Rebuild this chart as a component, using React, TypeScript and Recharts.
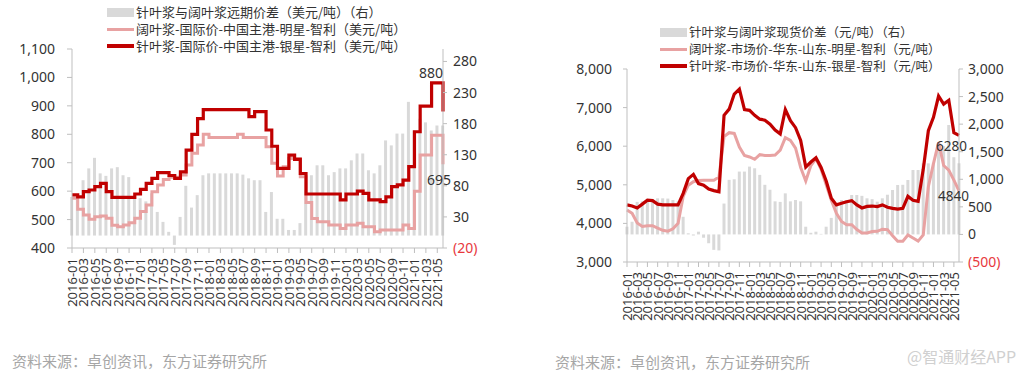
import React from 'react';
import { ComposedChart, Bar, Line, XAxis, YAxis } from 'recharts';

const months = [
  '2016-01', '2016-02', '2016-03', '2016-04', '2016-05', '2016-06', '2016-07', '2016-08', '2016-09', '2016-10', '2016-11', '2016-12',
  '2017-01', '2017-02', '2017-03', '2017-04', '2017-05', '2017-06', '2017-07', '2017-08', '2017-09', '2017-10', '2017-11', '2017-12',
  '2018-01', '2018-02', '2018-03', '2018-04', '2018-05', '2018-06', '2018-07', '2018-08', '2018-09', '2018-10', '2018-11', '2018-12',
  '2019-01', '2019-02', '2019-03', '2019-04', '2019-05', '2019-06', '2019-07', '2019-08', '2019-09', '2019-10', '2019-11', '2019-12',
  '2020-01', '2020-02', '2020-03', '2020-04', '2020-05', '2020-06', '2020-07', '2020-08', '2020-09', '2020-10', '2020-11', '2020-12',
  '2021-01', '2021-02', '2021-03', '2021-04', '2021-05', '2021-06',
];

// 左图：国际价（美元/吨）
const intlSpread = [62, 65, 89, 108, 125, 100, 96, 108, 110, 97, 94, 62, 60, 55, 68, 38, 22, 6, -15, 30, 80, 45, 65, 97, 100, 100, 100, 100, 100, 100, 98, 92, 89, 89, 38, 70, 27, 27, 9, 9, 20, 73, 97, 113, 113, 97, 102, 108, 108, 121, 132, 132, 105, 100, 113, 153, 145, 164, 164, 215, 169, 188, 182, 169, 177, 177];
const intlHardwood = [575, 536, 516, 501, 510, 513, 505, 480, 475, 481, 489, 505, 528, 551, 598, 622, 641, 649, 649, 657, 692, 733, 762, 800, 789, 789, 789, 789, 789, 800, 789, 789, 789, 789, 756, 698, 653, 686, 715, 715, 651, 560, 504, 492, 492, 481, 481, 469, 481, 481, 487, 475, 475, 457, 463, 463, 463, 463, 481, 469, 600, 727, 727, 797, 797, 695];
const intlSoftwood = [587, 580, 598, 604, 616, 627, 598, 578, 578, 578, 578, 590, 606, 627, 645, 665, 665, 655, 645, 668, 744, 800, 855, 887, 887, 887, 887, 887, 887, 887, 887, 862, 880, 880, 815, 758, 680, 680, 727, 712, 662, 590, 590, 590, 590, 590, 590, 569, 590, 590, 600, 592, 569, 569, 563, 580, 616, 622, 639, 686, 809, 899, 899, 981, 981, 880];

// 右图：现货价（元/吨）
const spotSpread = [140, 230, 590, 600, 600, 640, 655, 655, 650, 624, 600, 320, 20, -20, 50, -60, -160, -280, -290, 560, 990, 1000, 1140, 1140, 1230, 1200, 1080, 900, 810, 600, 590, 745, 600, 624, 600, 140, 30, 50, 10, 140, 300, 564, 624, 624, 715, 715, 700, 655, 640, 594, 655, 720, 806, 896, 900, 987, 1168, 1168, 1289, 1289, 1300, 1592, 1600, 1985, 1400, 1290];
const spotHardwood = [4350, 4260, 4010, 3920, 3940, 3940, 3880, 3820, 3800, 3860, 4000, 4700, 4990, 5080, 5110, 5120, 5120, 5120, 5200, 6250, 6350, 6330, 5980, 5760, 5720, 5660, 5780, 5760, 5760, 5770, 5900, 6220, 6150, 5950, 5450, 5100, 5500, 5680, 5400, 5000, 4600, 4260, 4050, 3965, 3965, 3840, 3750, 3750, 3790, 3794, 3850, 3840, 3680, 3540, 3540, 3700, 3620, 3540, 3700, 4950, 5550, 6100, 5500, 5380, 5120, 4840];
const spotSoftwood = [4480, 4450, 4400, 4500, 4600, 4590, 4500, 4480, 4480, 4480, 4480, 4780, 5160, 5270, 5030, 4990, 4890, 4850, 4820, 6800, 6960, 7350, 7480, 6950, 6930, 6800, 6700, 6675, 6570, 6420, 6320, 6950, 6660, 6480, 6150, 5460, 5590, 5700, 5450, 5100, 4650, 4480, 4520, 4560, 4590, 4480, 4400, 4440, 4450, 4435, 4480, 4420, 4390, 4370, 4390, 4700, 4600, 4570, 5400, 6400, 6750, 7300, 7090, 7190, 6350, 6280];

const intlLeftTicks = [400, 500, 600, 700, 800, 900, 1000, 1100];
const intlRightTicks = [-20, 30, 80, 130, 180, 230, 280];
const spotLeftTicks = [3000, 4000, 5000, 6000, 7000, 8000];
const spotRightTicks = [-500, 0, 500, 1000, 1500, 2000, 2500, 3000];

const DARK = '#c00000';
const PINK = '#e8a2a2';
const GREY = '#d9d9d9';
const AXIS = '#bfbfbf';
const TEXT = '#333';
const FONT = '"Noto Sans", "Noto Sans CJK SC", sans-serif';
const CJK = '"Noto Sans CJK SC", sans-serif';

const xTicks = months.map((_, i) => i).filter((i) => i % 2 === 0);

const intlData = months.map((m, i) => ({ i, month: m, spread: intlSpread[i], hardwood: intlHardwood[i], softwood: intlSoftwood[i] }));
const spotData = months.map((m, i) => ({ i, month: m, spread: spotSpread[i], hardwood: spotHardwood[i], softwood: spotSoftwood[i] }));

const fmt = (v: number) => v.toLocaleString('en-US');

const MonthTick = (props: any) => {
  const { x, y, payload } = props;
  return (
    <text x={x} y={y} transform={`rotate(-90, ${x}, ${y})`} textAnchor="end" dominantBaseline="central" fill={TEXT} fontSize={13} fontFamily={FONT}>
      {months[payload.value]}
    </text>
  );
};

const ValueTick = (props: any) => {
  const { x, y, payload, textAnchor } = props;
  const v = payload.value as number;
  return (
    <text x={x} y={y} dy={5} textAnchor={textAnchor} fill={v < 0 ? '#e8383d' : TEXT} fontSize={14} fontFamily={FONT}>
      {v < 0 ? `(${fmt(-v)})` : fmt(v)}
    </text>
  );
};

const LegendRow = ({ kind, label, top, left, size }: { kind: 'bar' | 'pink' | 'dark'; label: string; top: number; left: number; size: number }) => (
  <div style={{ position: 'absolute', left, top, height: 16, display: 'flex', alignItems: 'center', whiteSpace: 'nowrap' }}>
    {kind === 'bar' && <span style={{ display: 'inline-block', width: 27, height: 9, background: GREY }} />}
    {kind === 'pink' && <span style={{ display: 'inline-block', width: 27, height: 3, background: PINK }} />}
    {kind === 'dark' && <span style={{ display: 'inline-block', width: 27, height: 4, background: DARK }} />}
    <span style={{ marginLeft: 2, fontSize: size, color: TEXT, fontFamily: CJK, lineHeight: '16px' }}>{label}</span>
  </div>
);

const note = (text: string, left: number, top: number, size = 14) => (
  <div style={{ position: 'absolute', left, top, fontSize: size, color: TEXT, fontFamily: FONT, lineHeight: '16px' }}>{text}</div>
);

export default function App() {
  return (
    <div style={{ position: 'absolute', left: 0, top: 0, width: 1024, height: 375, background: '#fff', overflow: 'hidden' }}>
      {/* 左图 */}
      <div style={{ position: 'absolute', left: 0, top: 0 }}>
        <ComposedChart width={520} height={330} data={intlData} margin={{ top: 49, right: 0, bottom: 12, left: 0 }}>
          <XAxis
            dataKey="i"
            type="number"
            domain={[0, 65]}
            ticks={xTicks}
            interval={0}
            height={70}
            stroke={AXIS}
            tickSize={5}
            tickMargin={5}
            tick={<MonthTick />}
          />
          <YAxis yAxisId="left" domain={[400, 1100]} ticks={intlLeftTicks} width={72} stroke={AXIS} tickSize={5} tickMargin={12} tick={<ValueTick />} allowDataOverflow />
          <YAxis yAxisId="right" orientation="right" domain={[-20, 300]} ticks={intlRightTicks} width={77} stroke={AXIS} tickSize={4} tickMargin={6} tick={<ValueTick />} allowDataOverflow />
          <Bar yAxisId="right" dataKey="spread" fill={GREY} barSize={3} isAnimationActive={false} />
          <Line yAxisId="left" type="stepAfter" dataKey="hardwood" stroke={PINK} strokeWidth={3} dot={false} isAnimationActive={false} />
          <Line yAxisId="left" type="stepAfter" dataKey="softwood" stroke={DARK} strokeWidth={3.2} dot={false} isAnimationActive={false} />
        </ComposedChart>
      </div>
      <LegendRow kind="bar" label="针叶浆与阔叶浆远期价差（美元/吨）（右）" top={4} left={107} size={13} />
      <LegendRow kind="pink" label="阔叶浆-国际价-中国主港-明星-智利（美元/吨）" top={21} left={107} size={13} />
      <LegendRow kind="dark" label="针叶浆-国际价-中国主港-银星-智利（美元/吨）" top={38} left={107} size={13} />
      {note('880', 419, 65)}
      {note('695', 427, 172)}

      {/* 右图 */}
      <div style={{ position: 'absolute', left: 540, top: 0 }}>
        <ComposedChart width={484} height={340} data={spotData} margin={{ top: 69, right: 0, bottom: 12, left: 0 }}>
          <XAxis
            dataKey="i"
            type="number"
            domain={[0, 65]}
            ticks={xTicks}
            interval={0}
            height={66}
            stroke={AXIS}
            tickSize={5}
            tickMargin={5}
            tick={<MonthTick />}
          />
          <YAxis yAxisId="left" domain={[3000, 8000]} ticks={spotLeftTicks} width={87} stroke={AXIS} tickSize={4} tickMargin={11} tick={<ValueTick />} allowDataOverflow />
          <YAxis yAxisId="right" orientation="right" domain={[-500, 3000]} ticks={spotRightTicks} width={65} stroke={AXIS} tickSize={4} tickMargin={5} tick={<ValueTick />} allowDataOverflow />
          <Bar yAxisId="right" dataKey="spread" fill={GREY} barSize={3} isAnimationActive={false} />
          <Line yAxisId="left" type="linear" dataKey="hardwood" stroke={PINK} strokeWidth={3} dot={false} isAnimationActive={false} />
          <Line yAxisId="left" type="linear" dataKey="softwood" stroke={DARK} strokeWidth={3.2} dot={false} isAnimationActive={false} />
        </ComposedChart>
      </div>
      <LegendRow kind="bar" label="针叶浆与阔叶浆现货价差（元/吨）（右）" top={24} left={660} size={12.5} />
      <LegendRow kind="pink" label="阔叶浆-市场价-华东-山东-明星-智利（元/吨）" top={41} left={660} size={12.5} />
      <LegendRow kind="dark" label="针叶浆-市场价-华东-山东-银星-智利（元/吨）" top={58} left={660} size={12.5} />
      {note('6280', 936, 138, 13.5)}
      {note('4840', 938, 188, 13.5)}

      {/* 来源 */}
      <div style={{ position: 'absolute', left: 12, top: 351, fontSize: 15, color: '#a6a6a6', fontFamily: CJK, lineHeight: '20px' }}>资料来源：卓创资讯，东方证券研究所</div>
      <div style={{ position: 'absolute', left: 555, top: 352, fontSize: 15, color: '#a6a6a6', fontFamily: CJK, lineHeight: '20px' }}>资料来源：卓创资讯，东方证券研究所</div>
      <div style={{ position: 'absolute', left: 907, top: 346, fontSize: 16, color: '#d0d0d0', fontFamily: CJK, lineHeight: '20px' }}>@智通财经APP</div>
    </div>
  );
}
